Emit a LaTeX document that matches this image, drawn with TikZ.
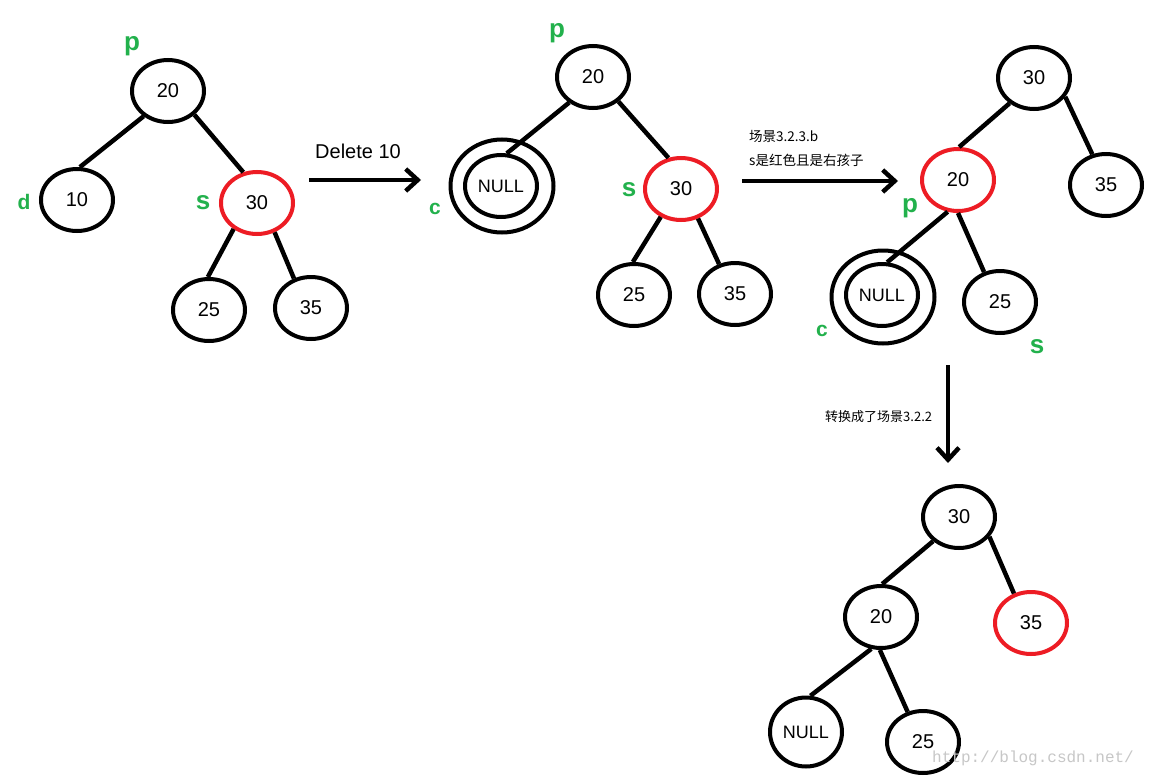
\documentclass[tikz,border=0pt]{standalone}
\usepackage{fontspec}
\setmainfont{Liberation Sans}
\newfontfamily\cjk{Noto Sans CJK SC}
\newfontfamily\wmfont{Liberation Mono}
\usetikzlibrary{shapes.geometric,arrows.meta}
\definecolor{pred}{RGB}{237,28,36}
\definecolor{pgreen}{RGB}{34,177,76}
\tikzset{
  nd/.style={ellipse, draw=black, line width=4pt, minimum width=72pt, minimum height=62pt, inner sep=0pt, font=\fontsize{20}{20}\selectfont},
  rednd/.style={nd, draw=pred},
  nullnd/.style={nd, font=\fontsize{18}{18}\selectfont},
  ring/.style={ellipse, draw=black, line width=4pt, minimum width=103pt, minimum height=93pt, inner sep=0pt},
  lbl/.style={text=pgreen, font=\bfseries\fontsize{26}{26}\selectfont, inner sep=0pt},
  slbl/.style={lbl, font=\bfseries\fontsize{21}{21}\selectfont},
  link/.style={line width=4.5pt},
  arr/.style={line width=4.5pt, -{Straight Barb[length=12pt,width=22pt]}},
  cjktext/.style={font=\cjk\fontsize{13.5}{13.5}\selectfont, inner sep=0pt, anchor=west}
}
\begin{document}
\begin{tikzpicture}[x=1pt,y=-1pt]
\useasboundingbox (0,0) rectangle (1152,779);
\fill[white] (0,0) rectangle (1152,779);

% ---------- Tree 1 ----------
\node[nd] (t1a) at (168,91) {20};
\node[nd] (t1b) at (77,200) {10};
\node[rednd] (t1c) at (257,203) {30};
\node[nd] (t1d) at (209,310) {25};
\node[nd] (t1e) at (311,308) {35};
\draw[link] (t1a.226) -- (t1b.85);
\draw[link] (t1a.318) -- (t1c.114);
\draw[link] (t1c.228) -- (t1d.92);
\draw[link] (t1c.301) -- (t1e.120);
\node[lbl] (l1p) at (132,46) {p};
\node[slbl] (l1d) at (24,202) {d};
\node[lbl] (l1s) at (203,203) {s};

% arrow 1
\coordinate (a1s) at (309,180);
\coordinate (a1e) at (421,180);
\draw[arr] (a1s) -- (a1e);
\node[font=\fontsize{20}{20}\selectfont, inner sep=0pt] (del) at (358,151) {Delete 10};

% ---------- Tree 2 ----------
\node[nd] (t2a) at (593,77) {20};
\node[nullnd] (t2b) at (501,186) {NULL};
\node[ring] (t2r) at (502,186) {};
\node[rednd] (t2c) at (681,189) {30};
\node[nd] (t2d) at (634,295) {25};
\node[nd] (t2e) at (735,294) {35};
\draw[link] (t2a.227) -- (t2b.80);
\draw[link] (t2a.316) -- (t2c.112);
\draw[link] (t2c.234) -- (t2d.92);
\draw[link] (t2c.300) -- (t2e.118);
\node[slbl] (l2c) at (435,209) {c};
\node[lbl] (l2p) at (557,33) {p};
\node[lbl] (l2s) at (629,190) {s};

% arrow 2
\coordinate (a2s) at (742,181);
\coordinate (a2e) at (898,181);
\draw[arr] (a2s) -- (a2e);
\node[cjktext] (txt1) at (749,136) {场景3.2.3.b};
\node[cjktext] (txt2) at (749,160) {s是红色且是右孩子};

% ---------- Tree 3 ----------
\node[nd] (t3a) at (1034,78) {30};
\node[rednd] (t3b) at (958,180) {20};
\node[nd] (t3c) at (1106,185) {35};
\node[nullnd] (t3d) at (882,295) {NULL};
\node[ring] (t3r) at (883,297) {};
\node[nd] (t3e) at (1000,302) {25};
\draw[link] (t3a.226) -- (t3b.88);
\draw[link] (t3a.329) -- (t3c.114);
\draw[link] (t3b.252) -- (t3d.81);
\draw[link] (t3b.270) -- (t3e.118);
\node[lbl] (l3p) at (910,208) {p};
\node[slbl] (l3c) at (822,331) {c};
\node[lbl] (l3s) at (1037,347) {s};

% arrow 3
\coordinate (a3s) at (948,365);
\coordinate (a3e) at (948,463);
\draw[arr] (a3s) -- (a3e);
\node[cjktext, font=\cjk\fontsize{13}{13}\selectfont] (txt3) at (825,417) {转换成了场景3.2.2};

% ---------- Tree 4 ----------
\node[nd] (t4a) at (959,517) {30};
\node[nd] (t4b) at (881,617) {20};
\node[rednd] (t4c) at (1031,623) {35};
\node[nullnd, minimum height=69pt] (t4d) at (806,732) {NULL};
\node[nd] (t4e) at (923,742) {25};
\draw[link] (t4a.223) -- (t4b.88);
\draw[link] (t4a.327) -- (t4c.120);
\draw[link] (t4b.253) -- (t4d.83);
\draw[link] (t4b.268) -- (t4e.117);

% watermark
\node[font=\wmfont\fontsize{16}{16}\selectfont, text=black!22, inner sep=0pt, anchor=west] (wm) at (932,758) {http://blog.csdn.net/};
\end{tikzpicture}
\end{document}
